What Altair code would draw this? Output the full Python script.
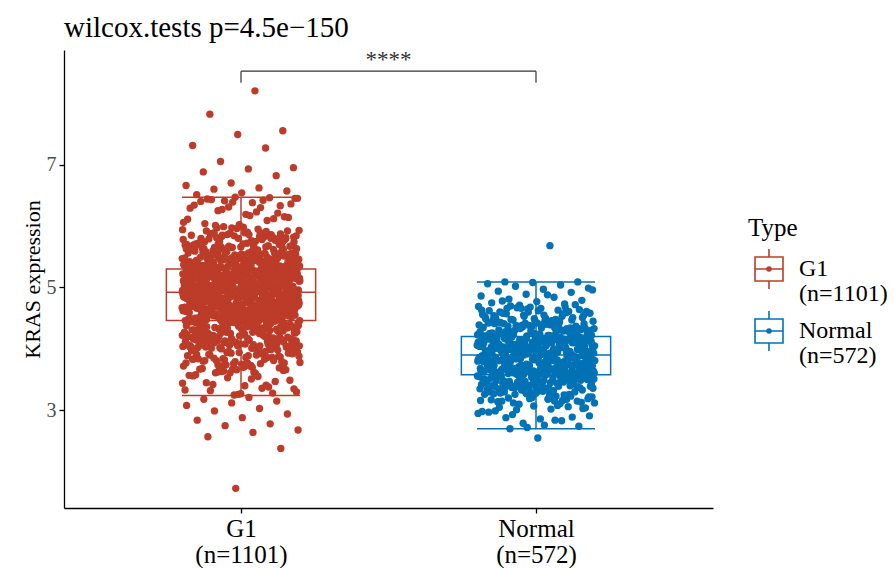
import altair as alt
import pandas as pd

# ---------------- data ----------------
groups = ["G1", "Normal"]
group_counts = ["(n=1101)", "(n=572)"]
group_colors = ["#BC3C29", "#0072B5"]

g1_values = [
    # above the upper whisker
    8.20, 7.82, 7.55, 7.49, 7.31, 7.27, 7.05, 6.95, 6.93, 6.88, 6.82, 6.70, 6.66, 6.62, 6.60, 6.57, 6.54, 6.51,
    # 6.0 - 6.47
    6.46, 6.41, 6.45, 6.38, 6.44, 6.33, 6.47, 6.29, 6.42, 6.25,
    6.36, 6.19, 6.40, 6.12, 6.31, 6.06, 6.23, 6.43, 6.15, 6.02,
    6.34, 6.09, 6.27, 6.45, 6.17, 6.04, 6.21, 6.39, 6.11, 6.30,
    6.01, 6.14,
    # 5.6 - 6.0
    5.98, 5.72, 5.86, 5.61, 5.93, 5.65, 5.79, 5.67, 5.96, 5.62,
    5.83, 5.74, 5.68, 5.90, 5.64, 5.77, 5.88, 5.69, 5.95, 5.60,
    5.81, 5.66, 5.71, 5.85, 5.99, 5.63, 5.76, 5.92, 5.70, 5.84,
    5.61, 5.78, 5.97, 5.67, 5.89, 5.73, 5.82, 5.64, 5.94, 5.75,
    5.87, 5.62, 5.80, 5.69, 5.91, 5.66, 5.74, 5.86, 5.63, 5.79,
    5.97, 5.70, 5.83, 5.65, 5.92,
    # 5.30 - 5.9
    5.31, 5.44, 5.36, 5.48, 5.33, 5.52, 5.39, 5.57, 5.42, 5.35,
    5.55, 5.49, 5.38, 5.45, 5.31, 5.58, 5.43, 5.37, 5.51, 5.40,
    5.34, 5.47, 5.59, 5.41, 5.32, 5.54, 5.46, 5.36, 5.50, 5.39,
    5.56, 5.44, 5.33, 5.48, 5.53, 5.37, 5.42, 5.58, 5.35, 5.45,
    5.51, 5.30, 5.47, 5.40, 5.55, 5.34, 5.49, 5.43, 5.57, 5.38,
    5.46, 5.32, 5.52, 5.41, 5.36, 5.54, 5.44, 5.31, 5.50, 5.39,
    5.59, 5.47, 5.35, 5.53, 5.42, 5.33, 5.56, 5.45, 5.38, 5.49,
    5.62, 5.35, 5.78, 5.44, 5.87, 5.51, 5.33, 5.69, 5.41, 5.83,
    5.57, 5.30, 5.74, 5.47, 5.65, 5.38, 5.89, 5.53, 5.42, 5.71,
    5.34, 5.80, 5.59, 5.46, 5.67, 5.31, 5.76, 5.50, 5.85, 5.39,
    5.63, 5.43, 5.72, 5.36, 5.55, 5.88, 5.48, 5.61, 5.32, 5.79,
    5.52, 5.40, 5.68, 5.45, 5.84, 5.37, 5.58, 5.73, 5.49, 5.64,
    5.33, 5.81, 5.54, 5.42, 5.70, 5.36, 5.86, 5.47, 5.60, 5.39,
    5.75, 5.51, 5.31, 5.66, 5.44, 5.82, 5.56, 5.35, 5.77, 5.48,
    5.63, 5.41, 5.89, 5.53, 5.34, 5.69, 5.46, 5.58, 5.38, 5.74,
    5.50, 5.87, 5.43, 5.62, 5.32, 5.71, 5.55, 5.40, 5.80, 5.45,
    5.67, 5.37, 5.59, 5.52, 5.78, 5.33, 5.64, 5.49, 5.85, 5.42,
    # 4.92 - 5.30
    5.01, 4.95, 5.12, 5.22, 4.98, 5.07, 5.28, 5.15, 4.93, 5.04,
    5.19, 5.26, 5.10, 4.97, 5.02, 5.24, 5.13, 5.06, 4.99, 5.17,
    5.29, 5.08, 4.94, 5.21, 5.11, 5.03, 5.27, 5.16, 4.96, 5.09,
    5.20, 5.25, 5.00, 5.14, 5.05, 4.98, 5.23, 5.18, 5.12, 4.95,
    5.07, 5.28, 5.01, 5.16, 4.93, 5.10, 5.22, 5.04, 5.26, 5.13,
    4.97, 5.19, 5.08, 5.02, 5.24, 4.99, 5.15, 5.29, 5.06, 5.11,
    4.94, 5.21, 5.03, 5.17, 5.27, 5.00, 5.14, 4.96, 5.09, 5.25,
    5.05, 5.20, 5.18, 4.92, 5.12, 5.23, 5.01, 5.07, 5.16, 4.98,
    5.03, 5.18, 4.94, 5.27, 5.10, 4.99, 5.22, 5.06, 5.15, 4.96,
    5.25, 5.01, 5.13, 5.29, 4.93, 5.08, 5.20, 5.04, 5.17, 4.98,
    5.23, 5.11, 4.95, 5.26, 5.07, 5.14, 5.00, 5.21, 5.09, 4.97,
    5.28, 5.02, 5.16, 4.92, 5.12, 5.24, 5.05, 5.19, 4.99, 5.27,
    5.10, 4.94, 5.22, 5.06, 5.15, 5.01, 5.25, 4.96, 5.13, 5.08,
    5.20, 5.03, 5.29, 4.98, 5.17, 5.11, 4.93, 5.23, 5.07, 5.14,
    5.00, 5.26, 4.95, 5.18, 5.04, 5.21, 5.12, 4.97, 5.28, 5.09,
    5.02, 5.16, 5.24, 4.94, 5.19, 5.05, 5.13, 5.27, 4.99, 5.10,
    5.22, 5.06, 4.96, 5.15, 5.25, 5.01, 5.18, 5.08, 4.93, 5.20,
    5.03, 5.29, 5.11, 4.98, 5.14,
    5.17, 4.96, 5.24, 5.05, 5.12, 4.93, 5.28, 5.09, 5.20, 5.01,
    5.14, 4.98, 5.26, 5.07, 5.19, 4.95, 5.22, 5.03, 5.11, 5.29,
    4.97, 5.16, 5.06, 5.23, 4.94, 5.13, 5.27, 5.00, 5.18, 5.08,
    5.25, 4.99, 5.10, 5.21, 5.04, 5.15, 4.92, 5.28, 5.02, 5.19,
    5.12, 4.96, 5.24, 5.07, 5.17, 5.00, 5.26, 4.94, 5.14, 5.09,
    5.22, 5.03, 5.11, 4.98, 5.29, 5.05, 5.20, 4.95, 5.16, 5.08,
    5.27, 5.01, 5.13, 4.97, 5.23, 5.10, 5.18, 4.93, 5.25, 5.04,
    5.15, 4.99, 5.21, 5.06, 5.12, 5.28, 4.96, 5.19, 5.02, 5.24,
    5.09, 4.94, 5.17, 5.07, 5.26, 5.00, 5.14, 4.98, 5.22, 5.11,
    5.03, 5.29, 4.95, 5.16, 5.08, 5.20, 5.05, 4.97, 5.25, 5.13, 5.05,
    # 4.46 - 4.92
    4.71, 4.55, 4.88, 4.62, 4.49, 4.80, 4.67, 4.58, 4.91, 4.74,
    4.52, 4.85, 4.64, 4.77, 4.47, 4.69, 4.83, 4.56, 4.90, 4.61,
    4.73, 4.50, 4.86, 4.66, 4.79, 4.54, 4.89, 4.60, 4.75, 4.48,
    4.82, 4.68, 4.57, 4.87, 4.63, 4.76, 4.51, 4.84, 4.70, 4.59,
    4.78, 4.46, 4.81, 4.65, 4.53, 4.90, 4.72, 4.58, 4.86, 4.62,
    4.49, 4.77, 4.69, 4.84, 4.55, 4.74, 4.88, 4.60, 4.67, 4.52,
    4.80, 4.71, 4.57, 4.91, 4.64, 4.47, 4.83, 4.75, 4.50, 4.68,
    4.87, 4.61, 4.79, 4.54, 4.73, 4.85, 4.66, 4.48, 4.82, 4.70,
    4.63, 4.78, 4.51, 4.87, 4.69, 4.56, 4.81, 4.74, 4.48, 4.90,
    4.59, 4.72, 4.85, 4.53, 4.67, 4.79, 4.62, 4.47, 4.88, 4.70,
    4.55, 4.83, 4.65, 4.76, 4.50, 4.91, 4.61, 4.73, 4.86, 4.57,
    4.68, 4.80, 4.52, 4.75, 4.89, 4.64, 4.49, 4.82, 4.71, 4.58,
    4.84, 4.66, 4.54, 4.77, 4.90, 4.60, 4.46, 4.73, 4.87, 4.63,
    4.51, 4.79, 4.69, 4.56, 4.85, 4.74, 4.48, 4.81, 4.67, 4.59,
    4.88, 4.53, 4.72, 4.62, 4.83, 4.50, 4.76, 4.91, 4.57, 4.68,
    4.86, 4.61, 4.75, 4.49, 4.80, 4.65, 4.54, 4.89, 4.70, 4.58,
    4.82, 4.47, 4.77, 4.64, 4.52, 4.84, 4.71, 4.60, 4.87, 4.55,
    4.78, 4.66, 4.50, 4.83, 4.73,
    4.68, 4.52, 4.81, 4.59, 4.74, 4.47, 4.87, 4.63, 4.55, 4.79,
    4.70, 4.50, 4.85, 4.61, 4.76, 4.53, 4.90, 4.66, 4.48, 4.83,
    4.72, 4.57, 4.88, 4.64, 4.51, 4.78, 4.69, 4.46, 4.84, 4.60,
    4.75, 4.54, 4.91, 4.67, 4.49, 4.82, 4.62, 4.73, 4.56, 4.86,
    4.65, 4.50, 4.80, 4.71, 4.58, 4.89, 4.63, 4.47, 4.77, 4.68,
    4.53, 4.85, 4.60, 4.74, 4.52, 4.90, 4.66, 4.57, 4.81, 4.70,
    4.48, 4.87, 4.62, 4.76, 4.55, 4.83, 4.69, 4.51, 4.79, 4.64,
    4.59, 4.88, 4.73, 4.49, 4.84, 4.61, 4.77, 4.54, 4.91, 4.67,
    4.56, 4.82, 4.72, 4.47, 4.86, 4.65, 4.58, 4.80, 4.71, 4.50,
    4.89, 4.63, 4.75, 4.53, 4.84, 4.68, 4.57, 4.78, 4.62, 4.87,
    # 4.0 - 4.46
    4.43, 4.21, 4.35, 4.13, 4.39, 4.15, 4.28, 4.11, 4.44, 4.31,
    4.18, 4.37, 4.24, 4.41, 4.12, 4.33, 4.22, 4.45, 4.16, 4.29,
    4.40, 4.19, 4.36, 4.26, 4.14, 4.42, 4.20, 4.32, 4.17, 4.38,
    4.25, 4.10, 4.34, 4.45, 4.23, 4.30, 4.13, 4.41, 4.27, 4.19,
    4.36, 4.11, 4.44, 4.22, 4.33, 4.16, 4.39, 4.28, 4.14, 4.42,
    4.24, 4.35, 4.18, 4.40, 4.21, 4.31, 4.12, 4.43, 4.26, 4.37,
    4.15, 4.29, 4.46, 4.20, 4.34, 4.17, 4.38, 4.23, 4.32, 4.10,
    4.27, 4.05, 4.38, 4.14, 4.44, 4.09, 4.31, 4.20, 4.02, 4.35,
    4.17, 4.41, 4.07, 4.25, 4.12, 4.45, 4.22, 4.03, 4.33, 4.15,
    4.39, 4.10, 4.28, 4.01, 4.36, 4.19, 4.43, 4.06, 4.24, 4.13,
    4.40, 4.08, 4.30, 4.18, 4.46, 4.04, 4.34, 4.21, 4.11, 4.37,
    4.16, 4.42, 4.00, 4.26, 4.14, 4.32, 4.09, 4.44, 4.23, 4.05,
    4.35, 4.19, 4.29, 4.02, 4.41, 4.12, 4.38, 4.07, 4.25, 4.16,
    4.43, 4.03, 4.31, 4.20, 4.10, 4.36, 4.15, 4.45, 4.06, 4.27,
    4.33, 4.18, 4.40, 4.08, 4.22,
    # 3.6 - 4.1
    4.08, 3.84, 3.97, 3.73, 4.03, 3.88, 3.76, 4.06, 3.92, 3.81,
    3.99, 3.71, 4.09, 3.86, 3.94, 3.78, 4.01, 3.90, 3.74, 4.05,
    3.83, 3.96, 3.72, 4.07, 3.89, 3.80, 4.02, 3.93, 3.77, 3.98,
    3.85, 4.04, 3.75, 3.91, 4.00, 3.82, 3.95, 3.70, 4.08, 3.87,
    3.79, 4.03, 3.93, 3.74, 3.99, 3.86, 4.06, 3.81, 3.96, 3.72,
    3.90, 4.01, 3.77, 3.94, 3.84,
    3.86, 3.64, 3.95, 3.72, 3.81, 3.98, 3.67, 3.89, 3.76, 3.61,
    3.93, 3.70, 3.84, 3.99, 3.74, 3.88, 3.62, 3.91, 3.79, 3.66,
    3.97, 3.83, 3.69, 3.92, 3.77,
    # 3.24 - 3.7
    3.68, 3.47, 3.61, 3.33, 3.55, 3.42, 3.66, 3.27, 3.58, 3.38,
    3.64, 3.30, 3.51, 3.45, 3.69, 3.25, 3.57, 3.36, 3.62, 3.49,
    3.40, 3.67, 3.28, 3.53, 3.44, 3.60, 3.32, 3.65, 3.26, 3.56,
    3.41, 3.63, 3.35,
    # below the lower whisker
    3.21, 3.18, 3.15, 3.12, 3.08, 3.03, 2.99, 2.94, 2.88, 2.84, 2.78, 2.75, 2.68, 2.64, 2.57, 2.38, 1.73,
]

normal_values = [
    # 4.7 - 5.09 and the outlier above
    5.68, 5.09, 5.09, 5.08, 5.06, 5.04, 5.02, 4.99, 4.97, 4.94, 4.92, 4.89,
    4.86, 4.84, 4.81, 4.79, 4.77, 4.75, 4.73, 4.71, 4.96, 4.88, 4.78, 4.72,
    # 4.20 - 4.7
    4.68, 4.52, 4.63, 4.47, 4.59, 4.66, 4.50, 4.61, 4.55, 4.69,
    4.46, 4.57, 4.64, 4.49, 4.62, 4.53, 4.67, 4.58, 4.45, 4.60,
    4.51, 4.65, 4.56, 4.48, 4.70, 4.54, 4.62, 4.47, 4.59, 4.66,
    4.33, 4.22, 4.41, 4.27, 4.36, 4.21, 4.44, 4.30, 4.25, 4.39,
    4.23, 4.34, 4.42, 4.28, 4.20, 4.37, 4.31, 4.24, 4.43, 4.29,
    4.35, 4.22, 4.40, 4.26, 4.32, 4.38, 4.21, 4.45, 4.27, 4.34,
    4.24, 4.41, 4.30, 4.36, 4.23, 4.39, 4.28, 4.33, 4.25, 4.42,
    4.31,
    4.38, 4.24, 4.55, 4.31, 4.47, 4.21, 4.63, 4.35, 4.28, 4.51,
    4.42, 4.26, 4.68, 4.33, 4.45, 4.22, 4.58, 4.37, 4.29, 4.49,
    4.40, 4.23, 4.61, 4.34, 4.44, 4.27, 4.53, 4.39, 4.21, 4.66,
    4.32, 4.46, 4.25, 4.57, 4.36, 4.30, 4.50, 4.43, 4.22, 4.60,
    4.35, 4.28, 4.48, 4.41, 4.24, 4.54, 4.33, 4.38,
    # 3.90 - 4.20
    4.05, 3.93, 4.17, 3.99, 4.11, 3.91, 4.19, 4.02, 4.14, 3.96,
    4.08, 4.18, 3.94, 4.12, 4.00, 4.15, 3.97, 4.09, 4.03, 4.16,
    3.92, 4.06, 4.13, 3.98, 4.10, 4.01, 4.19, 3.95, 4.07, 4.14,
    3.90, 4.04, 4.16, 3.99, 4.11, 3.93, 4.18, 4.02, 4.08, 3.96,
    4.13, 4.00, 4.17, 3.94, 4.06,
    4.10, 3.97, 4.15, 3.92, 4.05, 4.18, 3.95, 4.12, 4.01, 4.08,
    3.93, 4.16, 4.03, 4.11, 3.98, 4.19, 4.06, 3.91, 4.13, 4.00,
    4.17, 3.96, 4.09, 4.04, 3.94, 4.14, 4.02, 4.18, 3.99, 4.07,
    3.92, 4.12, 4.05, 3.97, 4.15, 4.01, 4.10, 3.95, 4.19, 4.03,
    3.90, 4.08, 4.14, 3.98, 4.06, 4.17, 3.93, 4.11, 4.00, 4.16,
    4.02, 3.94, 4.13, 3.98, 4.08, 3.91, 4.17, 4.04, 3.96, 4.11,
    4.00, 4.19, 3.93, 4.06, 4.15, 3.99, 4.09, 3.92, 4.14, 4.03,
    3.97, 4.18, 4.07, 3.95, 4.12, 4.01, 4.16, 3.90, 4.05, 4.10,
    3.98, 4.19, 4.03, 3.94, 4.13, 4.08, 3.96, 4.17, 4.00, 4.11,
    3.92, 4.06, 4.15, 3.99, 4.09, 4.02, 4.18, 3.95,
    # 3.58 - 3.90
    3.74, 3.61, 3.86, 3.67, 3.80, 3.59, 3.83, 3.70, 3.64, 3.88,
    3.77, 3.62, 3.85, 3.72, 3.68, 3.81, 3.60, 3.76, 3.89, 3.65,
    3.79, 3.71, 3.58, 3.84, 3.66, 3.87, 3.73, 3.63, 3.82, 3.69,
    3.78, 3.60, 3.86, 3.75, 3.62, 3.80, 3.67, 3.89, 3.71, 3.64,
    3.83, 3.76, 3.59, 3.85, 3.70,
    3.81, 3.66, 3.75, 3.88, 3.62, 3.79, 3.70, 3.85, 3.59, 3.73,
    3.84, 3.64, 3.77, 3.68, 3.87, 3.61, 3.80, 3.72, 3.89, 3.65,
    3.76, 3.83, 3.60, 3.71, 3.86, 3.67, 3.78, 3.63, 3.82, 3.74,
    3.58, 3.69, 3.85, 3.75, 3.62, 3.88, 3.66, 3.79, 3.70, 3.84,
    3.61, 3.77, 3.73, 3.87, 3.64, 3.81, 3.68, 3.76, 3.60, 3.83,
    3.72, 3.63, 3.84, 3.68, 3.77, 3.60, 3.87, 3.74, 3.65, 3.81,
    3.70, 3.89, 3.62, 3.79, 3.67, 3.85, 3.73, 3.59, 3.82, 3.76,
    3.64, 3.88, 3.71, 3.61, 3.80, 3.69, 3.86, 3.75, 3.58, 3.83,
    3.66, 3.78, 3.63, 3.87, 3.72, 3.60, 3.84, 3.77, 3.68, 3.81,
    3.62, 3.74, 3.89, 3.65, 3.79, 3.70, 3.85, 3.67,
    # 3.1 - 3.58
    3.55, 3.42, 3.51, 3.36, 3.48, 3.39, 3.54, 3.45, 3.57, 3.37,
    3.50, 3.44, 3.56, 3.40, 3.47, 3.35, 3.53, 3.41, 3.49, 3.38,
    3.52, 3.46, 3.57, 3.43, 3.36, 3.55, 3.48, 3.40, 3.51, 3.44,
    3.37, 3.54, 3.46, 3.39, 3.50, 3.42, 3.56, 3.45, 3.38, 3.53,
    3.45, 3.31, 3.52, 3.38, 3.22, 3.49, 3.35, 3.56, 3.27, 3.42,
    3.15, 3.47, 3.33, 3.54, 3.40, 3.24, 3.50, 3.36, 3.18, 3.44,
    3.57, 3.29, 3.46, 3.39, 3.12, 3.53, 3.34, 3.48, 3.26, 3.41,
    3.55, 3.20, 3.43, 3.37, 3.51, 3.30, 3.16, 3.46, 3.39, 3.57,
    3.28, 3.44, 3.35, 3.50, 3.23, 3.41, 3.53, 3.32,
    3.27, 3.18, 3.33, 3.12, 3.24, 3.30, 3.15, 3.21, 3.34, 3.11,
    3.26, 3.19, 3.31, 3.14, 3.23, 3.29, 3.16, 3.32, 3.20, 3.13,
    3.28, 3.17, 3.25, 3.10, 3.22, 3.33, 3.15, 3.30, 3.19, 3.26,
    # 2.70 - 3.1 and the outlier below
    3.08, 2.93, 3.04, 2.86, 2.99, 3.06, 2.79, 2.95, 3.02, 2.88,
    2.74, 3.07, 2.97, 2.83, 3.01, 2.91, 2.76, 3.05, 2.89, 2.72,
    2.98, 2.84, 2.70, 3.03,
    2.55,
]

# box-plot summary
box_q1 = [4.46, 3.58]
box_median = [4.92, 3.90]
box_q3 = [5.30, 4.20]
whisker_low = [3.24, 2.70]
whisker_high = [6.47, 5.09]

test_title = "wilcox.tests p=4.5e\u2212150"
signif_label = "****"
bracket_low = 8.33
bracket_high = 8.52
signif_level = 8.71

y_ticks = [3, 5, 7]
y_domain = [1.41, 8.865]
y_title = "KRAS expression"
legend_title = "Type"

FONT = "Liberation Serif"

# ---------------- tables ----------------
positions = list(range(1, len(groups) + 1))
pos_of = dict(zip(groups, positions))
col_of = dict(zip(groups, group_colors))

points = pd.DataFrame({
    "Type": [groups[0]] * len(g1_values) + [groups[1]] * len(normal_values),
    "value": g1_values + normal_values,
})
points["pos"] = points["Type"].map(pos_of)
points["col"] = points["Type"].map(col_of)

box = pd.DataFrame({
    "Type": groups, "pos": positions, "q1": box_q1, "median": box_median,
    "q3": box_q3, "lo": whisker_low, "hi": whisker_high,
})
box["col"] = box["Type"].map(col_of)

bracket = pd.DataFrame({
    "x1": [positions[0]], "x2": [positions[1]],
    "ylo": [bracket_low], "yhi": [bracket_high],
    "label": [signif_label], "ylab": [signif_level],
})


def js_list(items):
    return "[" + ", ".join("'" + s + "'" for s in items) + "]"


x_label_expr = (
    f"datum.value == 1 ? {js_list([groups[0], group_counts[0]])} : "
    f"{js_list([groups[1], group_counts[1]])}"
)
legend_label_expr = (
    f"datum.label == '{groups[0]}' ? {js_list([groups[0], group_counts[0]])} : "
    f"{js_list([groups[1], group_counts[1]])}"
)

x_scale = alt.Scale(domain=[0.4, 2.6], nice=False, zero=False)
y_scale = alt.Scale(domain=y_domain, nice=False, zero=False)
c_scale = alt.Scale(domain=groups, range=group_colors)

x_axis = alt.Axis(
    values=positions, labelExpr=x_label_expr, title=None, grid=False,
    domainColor="black", domainWidth=1.3, tickColor="black", tickWidth=1.3, tickSize=5,
    labelColor="black", labelFont=FONT, labelFontSize=25, labelPadding=3, labelLineHeight=26,
)
y_axis = alt.Axis(
    values=y_ticks, title=y_title, grid=False,
    domainColor="black", domainWidth=1.3, tickColor="black", tickWidth=1.3, tickSize=5,
    labelColor="#4D4D4D", labelFont=FONT, labelFontSize=20, labelPadding=3,
    titleFont=FONT, titleFontSize=22, titleFontWeight="normal", titleColor="black", titlePadding=2,
)


def X(field):
    return alt.X(field, scale=x_scale, axis=x_axis)


def Y(field):
    return alt.Y(field, scale=y_scale, axis=y_axis)


glyph_path = (
    "M0,-1L0,-0.6M-0.7,-0.6L0.7,-0.6L0.7,0.6L-0.7,0.6Z"
    "M-0.7,0L0.7,0M0,0.6L0,1"
    "M-0.1,0A0.1,0.1,0,1,0,0.1,0A0.1,0.1,0,1,0,-0.1,0"
    "M-0.04,0A0.04,0.04,0,1,0,0.04,0A0.04,0.04,0,1,0,-0.04,0"
)

legend = alt.Legend(
    title=legend_title, symbolType=glyph_path, symbolSize=1600, symbolStrokeWidth=1.6,
    labelExpr=legend_label_expr, orient="none", legendX=684, legendY=166,
    titleFont=FONT, titleFontSize=25, titleFontWeight="normal", titleColor="black",
    labelFont=FONT, labelFontSize=24, labelFontWeight="normal", labelColor="black", labelOffset=9,
    rowPadding=0, clipHeight=50, titlePadding=3, padding=0, labelBaseline="middle",
)

# colours without a scale (no extra legend); the single legend comes from whisker_up
stroke_enc = alt.Stroke("col:N", scale=None)

base_box = alt.Chart(box).transform_calculate(
    xl="datum.pos - 0.253", xr="datum.pos + 0.253",
    cl="datum.pos - 0.2", cr="datum.pos + 0.2",
)

box_rect = base_box.mark_bar(fill="white", strokeWidth=1.5).encode(
    x=X("xl:Q"), x2="xr:Q", y=Y("q1:Q"), y2="q3:Q", stroke=stroke_enc,
)
box_median_rule = base_box.mark_rule(strokeWidth=1.5).encode(
    x=X("xl:Q"), x2="xr:Q", y=Y("median:Q"), stroke=stroke_enc,
)
whisker_up = base_box.mark_rule(strokeWidth=1.5).encode(
    x=X("pos:Q"), y=Y("q3:Q"), y2="hi:Q",
    color=alt.Color("Type:N", scale=c_scale, legend=legend),
)
whisker_down = base_box.mark_rule(strokeWidth=1.5).encode(
    x=X("pos:Q"), y=Y("lo:Q"), y2="q1:Q", stroke=stroke_enc,
)
cap_up = base_box.mark_rule(strokeWidth=1.5).encode(
    x=X("cl:Q"), x2="cr:Q", y=Y("hi:Q"), stroke=stroke_enc,
)
cap_down = base_box.mark_rule(strokeWidth=1.5).encode(
    x=X("cl:Q"), x2="cr:Q", y=Y("lo:Q"), stroke=stroke_enc,
)

dots = alt.Chart(points).transform_window(
    rn="row_number()", groupby=["Type"]
).transform_calculate(
    jx="datum.pos + ((datum.rn * 0.6180339887) % 1 - 0.5) * 0.4"
).mark_circle(size=54, opacity=1).encode(
    x=X("jx:Q"), y=Y("value:Q"),
    fill=alt.Fill("col:N", scale=None),
)

br = alt.Chart(bracket)
br_top = br.mark_rule(color="#333333", strokeWidth=1.2).encode(x=X("x1:Q"), x2="x2:Q", y=Y("yhi:Q"))
br_left = br.mark_rule(color="#333333", strokeWidth=1.2).encode(x=X("x1:Q"), y=Y("ylo:Q"), y2="yhi:Q")
br_right = br.mark_rule(color="#333333", strokeWidth=1.2).encode(x=X("x2:Q"), y=Y("ylo:Q"), y2="yhi:Q")
br_text = br.transform_calculate(xm="(datum.x1 + datum.x2) / 2").mark_text(
    font=FONT, fontSize=23, color="#333333", baseline="middle"
).encode(x=X("xm:Q"), y=Y("ylab:Q"), text="label:N")

chart = alt.layer(
    box_rect, whisker_up, whisker_down, cap_up, cap_down, dots, box_median_rule,
    br_top, br_left, br_right, br_text,
).properties(
    width=649, height=458,
    title=alt.TitleParams(
        test_title, anchor="start", frame="group", font=FONT, fontSize=29,
        fontWeight="normal", color="black", offset=6,
    ),
    autosize="none",
    padding={"left": 56, "top": 42, "right": 174, "bottom": 60},
).configure(
    style={"guide-label": {"lineHeight": 25}}
).configure_view(stroke=None)

chart.save("out.html", embed_options={"renderer": "svg", "actions": False})
